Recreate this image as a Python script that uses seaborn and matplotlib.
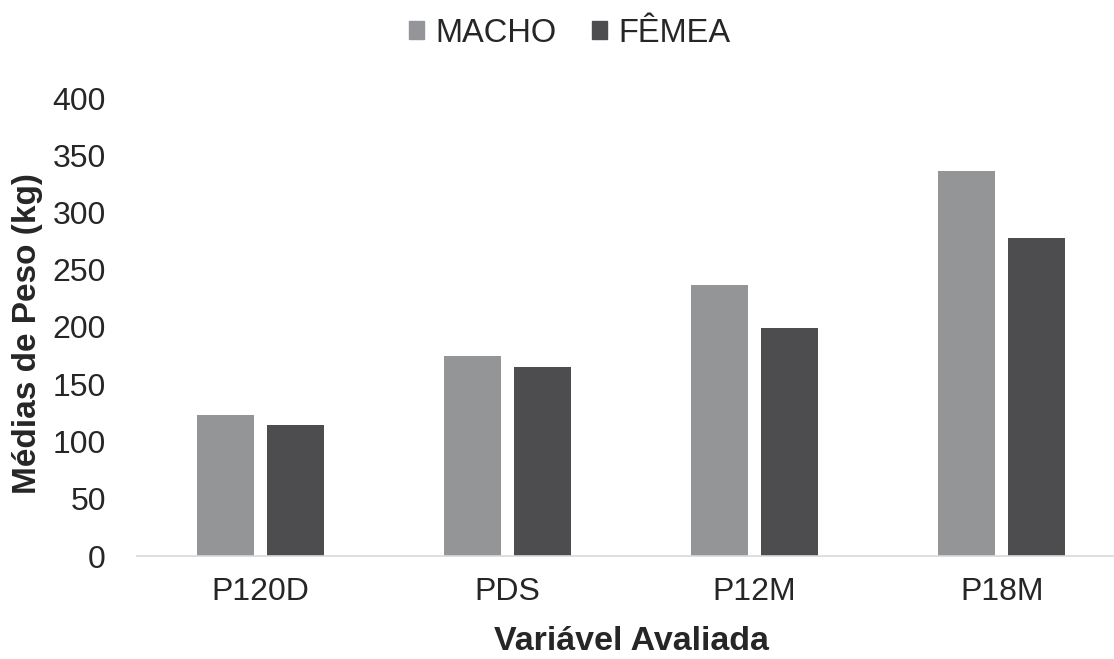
import pandas as pd
import numpy as np
import matplotlib.pyplot as plt
import seaborn as sns

# valores
categorias = ["P120D", "PDS", "P12M", "P18M"]
macho = [123, 175, 237, 336]
femea = [114, 165, 199, 278]
grupos = ["MACHO", "FÊMEA"]
cores = ["#939598", "#4d4d4f"]

df = pd.DataFrame({
    "Variavel": categorias * 2,
    "Peso": macho + femea,
    "Sexo": [grupos[0]] * len(categorias) + [grupos[1]] * len(categorias),
})

sns.set_style("white")
plt.rcParams["font.family"] = ["Liberation Sans", "DejaVu Sans"]

fig = plt.figure(figsize=(11.14, 6.59), dpi=100)
W, H = 1114, 659
ax = fig.add_axes([136.5 / W, (H - 556) / H, 989 / W, 458 / H])

sns.barplot(data=df, x="Variavel", y="Peso", hue="Sexo", palette=cores,
            width=0.566, gap=0.186, linewidth=0, ax=ax, legend=False)

ax.set_ylim(0, 400)
ax.set_xlim(-0.5, 3.5)
ax.set_yticks(np.arange(0, 401, 50))
for s in ["left", "right", "top"]:
    ax.spines[s].set_visible(False)
ax.spines["bottom"].set_color("#d9d9d9")
ax.spines["bottom"].set_linewidth(1.2)
ax.tick_params(axis="both", length=0, labelsize=23, colors="#262626")
ax.tick_params(axis="y", pad=22)
ax.tick_params(axis="x", pad=15)

ax.set_xlabel("Variável Avaliada", fontsize=24.5, fontweight="bold", color="#262626")
ax.set_ylabel("Médias de Peso (kg)", fontsize=24, fontweight="bold", color="#262626")
ax.xaxis.set_label_coords((631 - 136.5) / 989, -(650 - 556) / 458)
ax.xaxis.label.set_va("baseline")
ax.yaxis.set_label_coords(-(136.5 - 12) / 989, (556 - 334) / 458)
ax.yaxis.label.set_va("top")

handles = [plt.Rectangle((0, 0), 1, 1, color=c) for c in cores]
fig.legend(handles, grupos, loc="center", bbox_to_anchor=(570 / W, 1 - 33 / H), ncol=2,
           frameon=False, fontsize=23.5, handlelength=0.45, handleheight=0.45,
           handletextpad=0.35, columnspacing=1.1, labelcolor="#262626")

fig.savefig("out.png", dpi=100)
